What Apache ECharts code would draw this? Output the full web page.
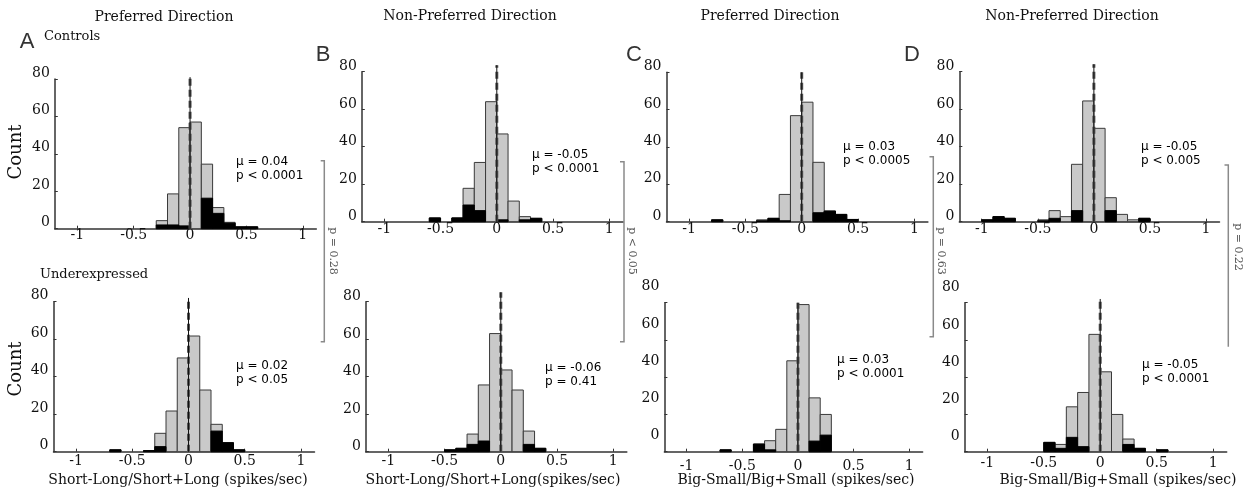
<!DOCTYPE html>
<html>
<head>
<meta charset="utf-8">
<title>Direction selectivity histograms</title>
<script src="https://cdn.jsdelivr.net/npm/echarts@6.0.0/dist/echarts.min.js"></script>
<style>
  html, body { margin: 0; padding: 0; background: #fff; }
  #chart { width: 1248px; height: 500px; }
</style>
</head>
<body>
<div id="chart"></div>
<script>
// histogram bins: left edges, width 0.1
const binStarts = [-1.0, -0.9, -0.8, -0.7, -0.6, -0.5, -0.4, -0.3, -0.2, -0.1, 0.0, 0.1, 0.2, 0.3, 0.4, 0.5];
const binWidth = 0.1;
const xTicks = [-1, -0.5, 0, 0.5, 1];

// Controls (top row): gray = all cells, black = significant cells
const ctrlPrefSLAll  = [0, 0, 0, 0, 0, 0, 0, 4.3, 18.6, 54, 57, 34.5, 11.3, 3.4, 1, 1];
const ctrlPrefSLSig  = [0, 0, 0, 0, 0, 0, 0, 2, 2, 1.5, 0, 16.3, 8.2, 3, 1, 1];
const ctrlNonSLAll   = [0, 0, 0, 0, 2, 0, 2, 17.8, 31.6, 64, 46.8, 11, 2.7, 1.8, 0, 0];
const ctrlNonSLSig   = [0, 0, 0, 0, 2, 0, 2, 8.9, 5.9, 0, 1, 0, 1, 1.8, 0, 0];
const ctrlPrefBSAll  = [0, 0, 1, 0, 0, 0, 1, 1.8, 14.6, 56.8, 64, 31.8, 5.7, 3.9, 1.2, 0];
const ctrlPrefBSSig  = [0, 0, 1, 0, 0, 0, 0.5, 1.8, 0.5, 0, 0, 4.8, 5.7, 3.9, 1.2, 0];
const ctrlNonBSAll   = [1, 2.7, 1.8, 0, 0, 1, 5.9, 2.7, 30.6, 64.4, 49.8, 12.8, 3.9, 1, 1.8, 0];
const ctrlNonBSSig   = [1, 2.7, 1.8, 0, 0, 0.5, 1.8, 0, 5.9, 0, 0, 5.9, 0, 0, 1.8, 0];

// Underexpressed (bottom row)
const underPrefSLAll = [0, 0, 0, 1, 0, 0, 0.6, 9.8, 21.7, 50, 61.7, 32.9, 14.6, 4.8, 1, 0];
const underPrefSLSig = [0, 0, 0, 1, 0, 0, 0.6, 2.7, 0, 0, 0, 0, 11, 4.8, 1, 0];
const underNonSLAll  = [0, 0, 0, 0, 0, 1, 1.8, 9.4, 35.6, 63, 43.6, 32.9, 11, 1.8, 0, 0];
const underNonSLSig  = [0, 0, 0, 0, 0, 1, 1.8, 3.9, 5.7, 0, 0, 0, 3.9, 1.8, 0, 0];
const underPrefBSAll = [0, 0, 0, 1, 0, 0, 4.1, 5.9, 12, 48.8, 79, 28.9, 20, 0, 0, 0];
const underPrefBSSig = [0, 0, 0, 1, 0, 0, 4.1, 1, 0, 0, 0, 5.7, 8.9, 0, 0, 0];
const underNonBSAll  = [0, 0, 0, 0, 0, 5, 3.9, 24.1, 31.8, 63, 42.9, 20, 6.8, 1.8, 0, 1];
const underNonBSSig  = [0, 0, 0, 0, 0, 5, 1.8, 7.7, 2.7, 0, 0, 0, 3.9, 1.8, 0, 1];

// stats printed in each panel
const muLabels = ['\u03bc = 0.04', '\u03bc = -0.05', '\u03bc = 0.03', '\u03bc = -0.05',
                  '\u03bc = 0.02', '\u03bc = -0.06', '\u03bc = 0.03', '\u03bc = -0.05'];
const pLabels = ['p < 0.0001', 'p < 0.0001', 'p < 0.0005', 'p < 0.005',
                 'p < 0.05', 'p = 0.41', 'p < 0.0001', 'p < 0.0001'];
// top of the vertical reference line at zero (counts)
const zeroLineTop = [81, 83.5, 80, 84, 82, 85, 80, 82];
// comparison between controls and underexpressed
const compareLabels = ['p = 0.28', 'p < 0.05', 'p = 0.63', 'p = 0.22'];

const allCounts = [ctrlPrefSLAll, ctrlNonSLAll, ctrlPrefBSAll, ctrlNonBSAll,
                   underPrefSLAll, underNonSLAll, underPrefBSAll, underNonBSAll];
const sigCounts = [ctrlPrefSLSig, ctrlNonSLSig, ctrlPrefBSSig, ctrlNonBSSig,
                   underPrefSLSig, underNonSLSig, underPrefBSSig, underNonBSSig];

// panel geometry (pixels)
const grids = [
  { left: 54.8, top: 79, width: 261.5, height: 149.7 },
  { left: 361.8, top: 71.7, width: 261, height: 150 },
  { left: 666.5, top: 72.3, width: 261.4, height: 149.4 },
  { left: 959.3, top: 71.7, width: 260.2, height: 150 },
  { left: 53.5, top: 301.7, width: 261, height: 150 },
  { left: 365.8, top: 301.7, width: 261, height: 150 },
  { left: 664.4, top: 302.7, width: 258.2, height: 149 },
  { left: 964.7, top: 302.7, width: 262, height: 149 }
];
// the y tick labels sit above their ticks in the scan
const yLabelShift = [6, 5, 5.5, 5, 6, 5, 16, 15];
const xLabelMargin = [0, 1, 1, 1, 3, 3, 8, 5];
const statPos = [[236, 162], [532, 155], [843, 147], [1141, 147],
                 [236, 366], [545, 368], [837, 360], [1142, 365]];

const serif = 'DejaVu Serif';
const ink = '#111';

let chart = echarts.init(document.getElementById('chart'));

function histSeries(i, counts, fill, stroke) {
  return {
    type: 'custom',
    xAxisIndex: i,
    yAxisIndex: i,
    silent: true,
    data: binStarts.map((b, k) => [b, counts[k]]).filter(d => d[1] > 0),
    renderItem: function(params, api) {
      let x0 = api.value(0);
      let v = api.value(1);
      let p0 = api.coord([x0, 0]);
      let p1 = api.coord([x0 + binWidth, v]);
      return {
        type: 'rect',
        shape: { x: p0[0], y: p1[1], width: p1[0] - p0[0], height: p0[1] - p1[1] },
        style: { fill: fill, stroke: stroke, lineWidth: 1 }
      };
    }
  };
}

function zeroLine(i) {
  return {
    type: 'custom',
    xAxisIndex: i,
    yAxisIndex: i,
    silent: true,
    clip: false,
    z: 5,
    data: [[0, zeroLineTop[i]]],
    renderItem: function(params, api) {
      let base = api.coord([0, 0]);
      let top = api.coord([0, api.value(1)]);
      return {
        type: 'group',
        children: [
          { type: 'line', shape: { x1: base[0], y1: base[1], x2: top[0], y2: top[1] },
            style: { stroke: '#555', lineWidth: 3, lineDash: [7, 4] } },
          { type: 'line', shape: { x1: base[0], y1: base[1], x2: top[0], y2: top[1] },
            style: { stroke: '#111', lineWidth: 1 } }
        ]
      };
    }
  };
}

let xAxes = [], yAxes = [], series = [];
grids.forEach(function(g, i) {
  xAxes.push({
    type: 'value', gridIndex: i, min: -1.2, max: 1.12,
    axisLine: { onZero: false, lineStyle: { color: '#333', width: 1.5 } },
    axisTick: { inside: true, length: 3, customValues: xTicks, lineStyle: { color: '#333' } },
    axisLabel: { customValues: xTicks, margin: xLabelMargin[i], fontFamily: serif, fontSize: 14, color: ink },
    splitLine: { show: false }
  });
  yAxes.push({
    type: 'value', gridIndex: i, min: 0, max: 80, interval: 20,
    axisLine: { show: true, onZero: false, lineStyle: { color: '#333', width: 1.5 } },
    axisTick: { show: true, inside: true, length: 3, lineStyle: { color: '#333' } },
    axisLabel: { margin: 5, fontFamily: serif, fontSize: 14, color: ink,
                 verticalAlign: 'bottom', lineHeight: 2 * yLabelShift[i] },
    splitLine: { show: false }
  });
  series.push(histSeries(i, allCounts[i], '#c9c9c9', '#3a3a3a'));
  series.push(histSeries(i, sigCounts[i], '#000', '#000'));
  series.push(zeroLine(i));
});

// texts, brackets and labels around the panels
let graphics = [];
function txt(x, y, s, size, opts) {
  let o = opts || {};
  graphics.push({
    type: 'text', x: x, y: y, rotation: o.rotation || 0, silent: true,
    style: {
      text: s, fontFamily: o.family || serif, fontSize: size, fill: o.color || ink,
      align: o.align || 'center', verticalAlign: 'middle'
    }
  });
}

txt(164, 17, 'Preferred Direction', 14);
txt(470, 16, 'Non-Preferred Direction', 14);
txt(770, 16, 'Preferred Direction', 14);
txt(1072, 16, 'Non-Preferred Direction', 14);

txt(27, 42, 'A', 22, { family: 'Liberation Sans', color: '#333' });
txt(323, 55, 'B', 22, { family: 'Liberation Sans', color: '#333' });
txt(634, 55, 'C', 22, { family: 'Liberation Sans', color: '#333' });
txt(912, 55, 'D', 22, { family: 'Liberation Sans', color: '#333' });

txt(44, 37, 'Controls', 13, { align: 'left' });
txt(40, 275, 'Underexpressed', 13, { align: 'left' });

txt(16, 152, 'Count', 18, { rotation: Math.PI / 2 });
txt(16, 369, 'Count', 18, { rotation: Math.PI / 2 });

txt(178, 480, 'Short-Long/Short+Long (spikes/sec)', 14);
txt(493, 480, 'Short-Long/Short+Long(spikes/sec)', 14);
txt(796, 480, 'Big-Small/Big+Small (spikes/sec)', 14);
txt(1118, 480, 'Big-Small/Big+Small (spikes/sec)', 14);

statPos.forEach(function(p, i) {
  txt(p[0], p[1], muLabels[i], 12, { align: 'left', family: 'DejaVu Sans', color: '#000' });
  txt(p[0], p[1] + 14, pLabels[i], 12, { align: 'left', family: 'DejaVu Sans', color: '#000' });
});

// brackets linking controls to underexpressed
const brackets = [
  [[320.7, 160.7], [324.3, 160.7], [324.3, 341.7], [320.7, 341.7]],
  [[620, 161.7], [624, 161.7], [624, 341.7], [620, 341.7]],
  [[929.5, 156.7], [933.3, 156.7], [933.3, 336.7], [929.5, 336.7]],
  [[1224.5, 165], [1228.3, 165], [1228.3, 346.7]]
];
const bracketText = [[333, 251], [632, 251], [941, 251], [1237.5, 247]];
brackets.forEach(function(pts, i) {
  graphics.push({
    type: 'polyline', silent: true,
    shape: { points: pts },
    style: { stroke: '#8a8a8a', lineWidth: 1.5, fill: null }
  });
  txt(bracketText[i][0], bracketText[i][1], compareLabels[i], 11,
      { rotation: -Math.PI / 2, color: '#555' });
});

chart.setOption({
  animation: false,
  backgroundColor: '#fff',
  grid: grids,
  xAxis: xAxes,
  yAxis: yAxes,
  series: series,
  graphic: graphics
});
</script>
</body>
</html>
